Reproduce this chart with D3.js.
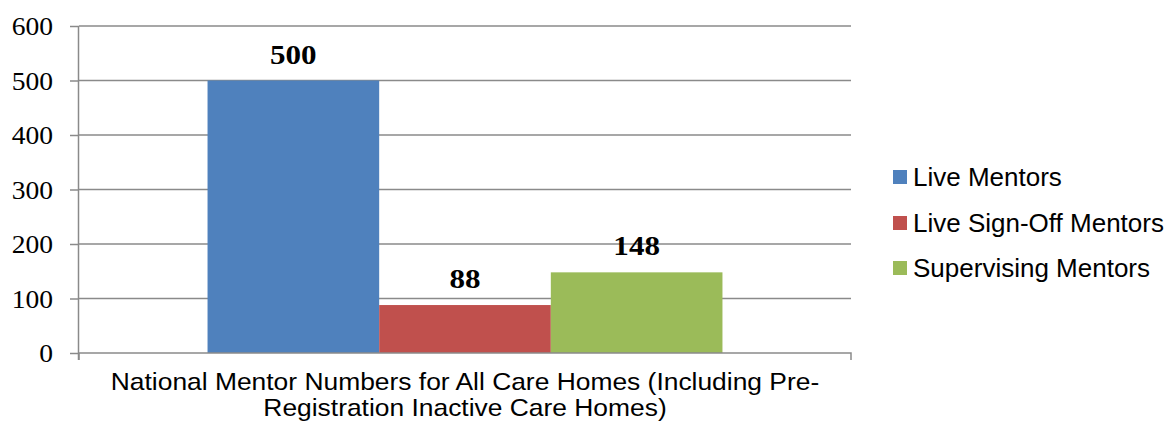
<!DOCTYPE html>
<html>
<head>
<meta charset="utf-8">
<script src="https://cdn.jsdelivr.net/npm/d3@7"></script>
<style>
  body { margin: 0; background: #fff; }
  svg { display: block; }
</style>
</head>
<body>
<svg id="chart" width="1172" height="428"></svg>
<script>
let series = ["Live Mentors", "Live Sign-Off Mentors", "Supervising Mentors"];
let values = [500, 88, 148];
let colors = ["#4F81BD", "#C0504D", "#9BBB59"];
let yTicks = [0, 100, 200, 300, 400, 500, 600];
let categoryLines = ["National Mentor Numbers for All Care Homes (Including Pre-", "Registration Inactive Care Homes)"];

let svg = d3.select("#chart");
let plotLeft = 79, plotRight = 851, plotTop = 26, plotBottom = 353;

let y = d3.scaleLinear().domain([0, 600]).range([plotBottom, plotTop]);
let cat = d3.scaleBand().domain(["c"]).range([plotLeft, plotRight]).paddingInner(0).paddingOuter(0);
// bars sit in the middle of the single category, gap on both sides
let bw = cat.bandwidth();
let x = d3.scaleBand().domain(series).range([plotLeft + bw * 0.1665, plotRight - bw * 0.1665]).padding(0);

// gridlines
svg.append("g")
  .selectAll("line")
  .data(yTicks.filter(d => d > 0))
  .enter()
  .append("line")
  .attr("x1", plotLeft).attr("x2", plotRight)
  .attr("y1", d => y(d)).attr("y2", d => y(d))
  .attr("stroke", "#8a8a8a").attr("stroke-width", 1.5);

// bars
svg.append("g")
  .selectAll("rect")
  .data(values)
  .enter()
  .append("rect")
  .attr("x", (d, i) => x(series[i]))
  .attr("width", x.bandwidth())
  .attr("y", d => y(d))
  .attr("height", d => y(0) - y(d))
  .attr("fill", (d, i) => colors[i]);

// value labels (Cambria-like bold, a bit wider than Liberation Serif)
svg.append("g")
  .selectAll("text")
  .data(values)
  .enter()
  .append("text")
  .attr("transform", (d, i) => "translate(" + (x(series[i]) + x.bandwidth() / 2) + "," + (y(d) - 17) + ") scale(1.15,1)")
  .attr("text-anchor", "middle")
  .attr("font-family", "'Liberation Serif', serif")
  .attr("font-weight", "bold")
  .attr("font-size", 27)
  .attr("fill", "#000")
  .text(d => d);

// y axis
let yAxis = d3.axisLeft(y).tickValues(yTicks).tickSize(9).tickPadding(17);
let gy = svg.append("g")
  .attr("transform", "translate(" + plotLeft + ",0)")
  .call(yAxis);
gy.select(".domain").attr("stroke", "#8a8a8a").attr("stroke-width", 1.5)
  .attr("d", "M-0.5," + plotTop + "V" + (plotBottom + 7));
gy.selectAll(".tick line").attr("stroke", "#8a8a8a").attr("stroke-width", 1.5);
gy.selectAll(".tick text")
  .attr("x", 0)
  .attr("transform", "translate(-26,0) scale(1.06,1)")
  .attr("font-family", "'Liberation Serif', serif")
  .attr("font-size", 26)
  .attr("fill", "#000")
  .attr("dy", "0.34em");

// x axis
let xAxis = d3.axisBottom(cat).tickSize(0).tickFormat("");
let gx = svg.append("g")
  .attr("transform", "translate(0," + plotBottom + ")")
  .call(xAxis);
gx.select(".domain").attr("stroke", "#8a8a8a").attr("stroke-width", 1.5)
  .attr("d", "M" + plotLeft + ",7V0H" + plotRight + "V7");

svg.append("g")
  .selectAll("text")
  .data(categoryLines)
  .enter()
  .append("text")
  .attr("transform", (d, i) => "translate(" + (plotLeft + plotRight) / 2 + "," + (390 + i * 26) + ") scale(1.1,1)")
  .attr("text-anchor", "middle")
  .attr("font-family", "'Liberation Sans', Arial, sans-serif")
  .attr("font-size", 24)
  .attr("fill", "#000")
  .text(d => d);

// legend
let lg = svg.append("g").attr("transform", "translate(893,0)");
let rowY = [177, 223, 268];
let items = lg.selectAll("g")
  .data(series)
  .enter()
  .append("g")
  .attr("transform", (d, i) => "translate(0," + rowY[i] + ")");
items.append("rect")
  .attr("x", 0).attr("y", -7).attr("width", 14).attr("height", 14)
  .attr("fill", (d, i) => colors[i]);
items.append("text")
  .attr("x", 20).attr("y", 0).attr("dy", "0.35em")
  .attr("font-family", "'Liberation Sans', Arial, sans-serif")
  .attr("font-size", 26)
  .attr("fill", "#000")
  .text(d => d);
</script>
</body>
</html>
